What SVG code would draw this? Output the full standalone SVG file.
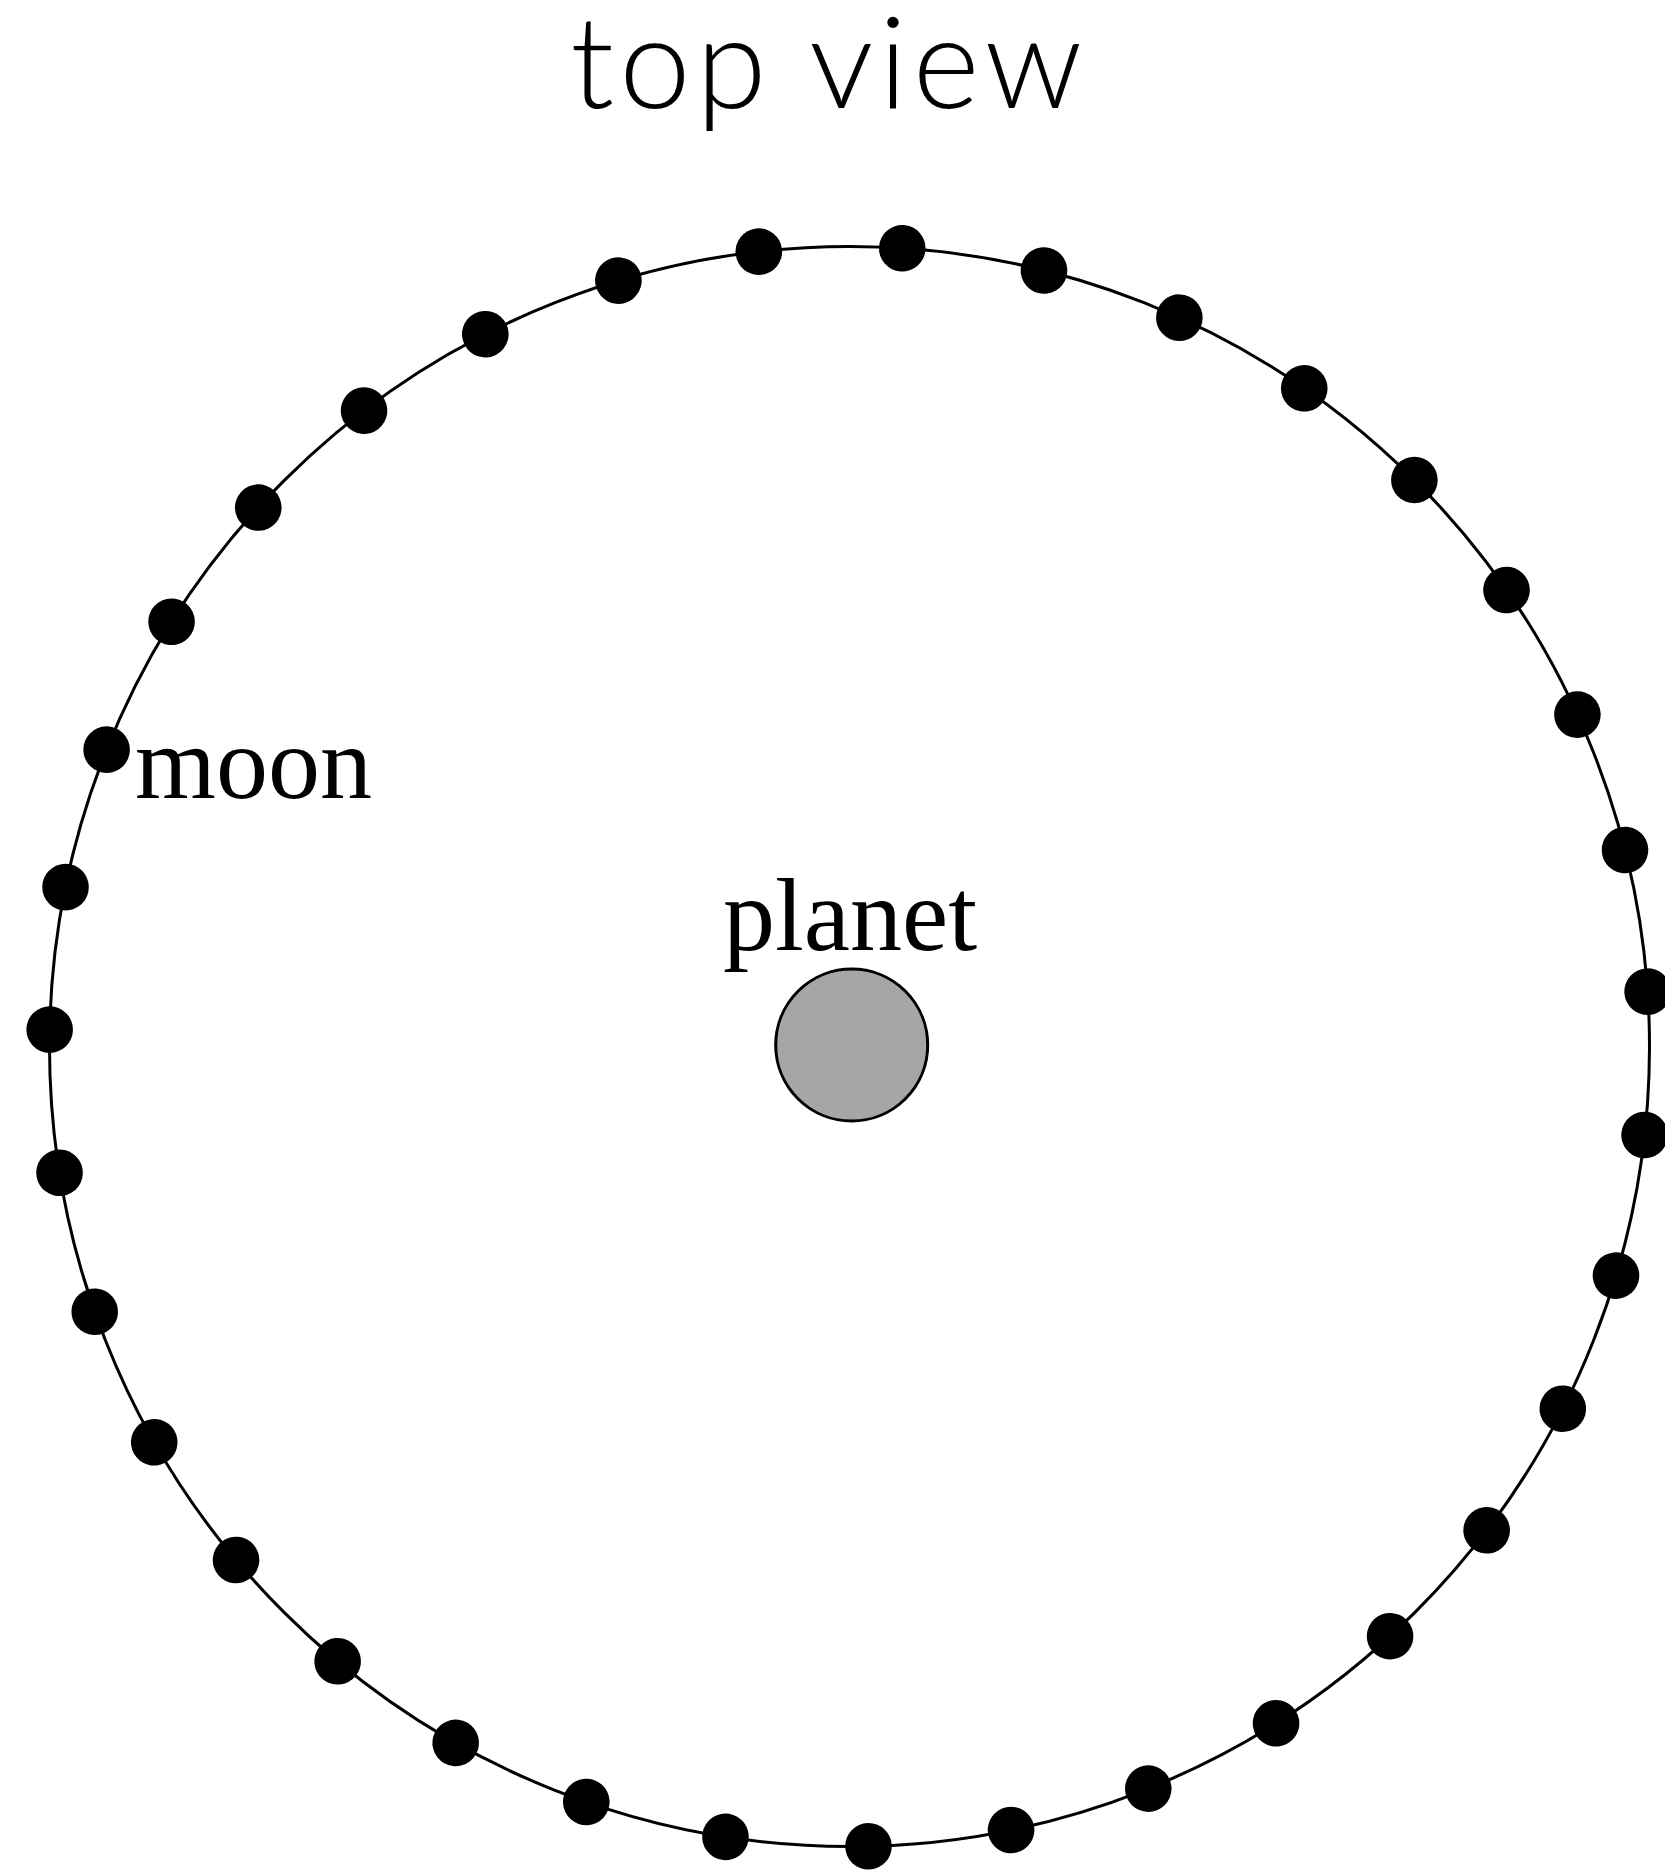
<svg xmlns="http://www.w3.org/2000/svg" xmlns:xlink="http://www.w3.org/1999/xlink" width="1665" height="1873" viewBox="0 0 1665 1873">
<style>
.orbit{fill:none;stroke:#000;stroke-width:3}
.moon{fill:#000}
.planet{fill:#a6a6a6;stroke:#000;stroke-width:3}
.lbl{font-family:"Liberation Serif","Times New Roman",serif;font-size:104px;fill:#000}
.title{font-family:Lato,"Liberation Sans",sans-serif;font-size:128px;font-weight:300;letter-spacing:5.4px;fill:#000}
</style>
<defs>
<circle id="dot" class="moon" cx="849.5" cy="246.5" r="23.3"/>
</defs>
<rect width="1665" height="1873" fill="#fff"/>
<text class="title" x="829" y="108" text-anchor="middle">top view</text>
<g id="connectors">
<circle id="orbit" class="orbit" cx="849.5" cy="1046.5" r="800"/>
</g>
<g id="planet">
<circle class="planet" cx="851.7" cy="1045" r="76"/>
<text class="lbl" x="850" y="950" text-anchor="middle">planet</text>
</g>
<g id="moons">
<use id="m0" xlink:href="#dot" transform="rotate(3.78 849.5 1046.5)"/>
<use id="m1" xlink:href="#dot" transform="rotate(14.07 849.5 1046.5)"/>
<use id="m2" xlink:href="#dot" transform="rotate(24.35 849.5 1046.5)"/>
<use id="m3" xlink:href="#dot" transform="rotate(34.64 849.5 1046.5)"/>
<use id="m4" xlink:href="#dot" transform="rotate(44.92 849.5 1046.5)"/>
<use id="m5" xlink:href="#dot" transform="rotate(55.21 849.5 1046.5)"/>
<use id="m6" xlink:href="#dot" transform="rotate(65.49 849.5 1046.5)"/>
<use id="m7" xlink:href="#dot" transform="rotate(75.78 849.5 1046.5)"/>
<use id="m8" xlink:href="#dot" transform="rotate(86.07 849.5 1046.5)"/>
<use id="m9" xlink:href="#dot" transform="rotate(96.35 849.5 1046.5)"/>
<use id="m10" xlink:href="#dot" transform="rotate(106.64 849.5 1046.5)"/>
<use id="m11" xlink:href="#dot" transform="rotate(116.92 849.5 1046.5)"/>
<use id="m12" xlink:href="#dot" transform="rotate(127.21 849.5 1046.5)"/>
<use id="m13" xlink:href="#dot" transform="rotate(137.49 849.5 1046.5)"/>
<use id="m14" xlink:href="#dot" transform="rotate(147.78 849.5 1046.5)"/>
<use id="m15" xlink:href="#dot" transform="rotate(158.07 849.5 1046.5)"/>
<use id="m16" xlink:href="#dot" transform="rotate(168.35 849.5 1046.5)"/>
<use id="m17" xlink:href="#dot" transform="rotate(178.64 849.5 1046.5)"/>
<use id="m18" xlink:href="#dot" transform="rotate(188.92 849.5 1046.5)"/>
<use id="m19" xlink:href="#dot" transform="rotate(199.21 849.5 1046.5)"/>
<use id="m20" xlink:href="#dot" transform="rotate(209.49 849.5 1046.5)"/>
<use id="m21" xlink:href="#dot" transform="rotate(219.78 849.5 1046.5)"/>
<use id="m22" xlink:href="#dot" transform="rotate(230.07 849.5 1046.5)"/>
<use id="m23" xlink:href="#dot" transform="rotate(240.35 849.5 1046.5)"/>
<use id="m24" xlink:href="#dot" transform="rotate(250.64 849.5 1046.5)"/>
<use id="m25" xlink:href="#dot" transform="rotate(260.92 849.5 1046.5)"/>
<use id="m26" xlink:href="#dot" transform="rotate(271.21 849.5 1046.5)"/>
<use id="m27" xlink:href="#dot" transform="rotate(281.49 849.5 1046.5)"/>
<use id="m28" xlink:href="#dot" transform="rotate(291.78 849.5 1046.5)"/>
<use id="m29" xlink:href="#dot" transform="rotate(302.07 849.5 1046.5)"/>
<use id="m30" xlink:href="#dot" transform="rotate(312.35 849.5 1046.5)"/>
<use id="m31" xlink:href="#dot" transform="rotate(322.64 849.5 1046.5)"/>
<use id="m32" xlink:href="#dot" transform="rotate(332.92 849.5 1046.5)"/>
<use id="m33" xlink:href="#dot" transform="rotate(343.21 849.5 1046.5)"/>
<use id="m34" xlink:href="#dot" transform="rotate(353.49 849.5 1046.5)"/>
</g>
<g id="moon-label">
<text class="lbl" x="135" y="798">moon</text>
</g>
</svg>
